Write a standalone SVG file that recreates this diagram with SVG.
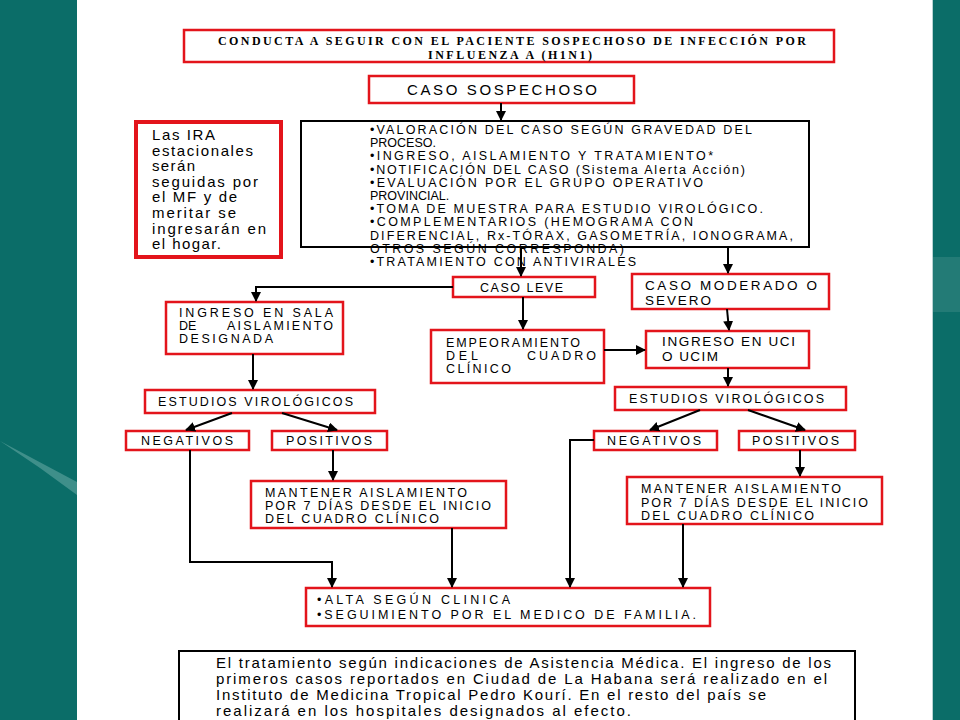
<svg xmlns="http://www.w3.org/2000/svg" width="960" height="720" viewBox="0 0 960 720">
<defs>
<marker id="ah" markerUnits="userSpaceOnUse" markerWidth="10" markerHeight="10" refX="9" refY="5" orient="auto">
<path d="M0,0 L10,5 L0,10 z" fill="#000"/>
</marker>
<style>
.rb{fill:#fff;stroke:#e3141b;stroke-width:2.5}
.bb{fill:#fff;stroke:#000;stroke-width:2}
.t{font-family:"Liberation Sans",Arial,sans-serif;font-size:12.5px;fill:#000}
.t13{font-family:"Liberation Sans",Arial,sans-serif;font-size:13.5px;fill:#000}
.t15{font-family:"Liberation Sans",Arial,sans-serif;font-size:15px;fill:#000}
.ts{font-family:"Liberation Serif","Times New Roman",serif;font-size:12px;font-weight:bold;fill:#000}
.c{fill:none;stroke:#000;stroke-width:2;marker-end:url(#ah)}
</style>
</defs>
<rect x="0" y="0" width="960" height="720" fill="#fff"/>
<rect x="0" y="0" width="77" height="720" fill="#0b6d68"/>
<polygon points="0,441 77,482 77,495 40,468" fill="#3f8f8a"/>
<rect x="932" y="0" width="28" height="720" fill="#0b6d68"/>
<rect x="933" y="257" width="27" height="55" fill="#237b76"/>
<line x1="932.5" y1="0" x2="932.5" y2="720" stroke="#b9d3d3" stroke-width="1"/>

<g id="title">
<rect class="rb" x="184" y="30" width="650" height="32"/>
<text class="ts" x="218" y="45" textLength="588" lengthAdjust="spacing">CONDUCTA A SEGUIR CON EL PACIENTE SOSPECHOSO DE INFECCIÓN POR</text>
<text class="ts" x="428" y="59" textLength="164" lengthAdjust="spacing">INFLUENZA A (H1N1)</text>
</g>

<g id="caso-sospechoso">
<rect class="rb" x="369" y="76" width="265" height="27"/>
<text class="t15" x="407" y="95" font-size="14.5" textLength="190" lengthAdjust="spacing">CASO SOSPECHOSO</text>
</g>

<g id="acciones">
<rect class="bb" x="301" y="121" width="508" height="126"/>
<g class="t">
<text x="370" y="134" textLength="382" lengthAdjust="spacing">•VALORACIÓN DEL CASO SEGÚN GRAVEDAD DEL</text>
<text x="370" y="147.2">PROCESO.</text>
<text x="370" y="160.4" textLength="343" lengthAdjust="spacing">•INGRESO, AISLAMIENTO Y TRATAMIENTO*</text>
<text x="370" y="173.6" textLength="375" lengthAdjust="spacing">•NOTIFICACIÓN DEL CASO (Sistema Alerta Acción)</text>
<text x="370" y="186.8" textLength="333" lengthAdjust="spacing">•EVALUACIÓN POR EL GRUPO OPERATIVO</text>
<text x="370" y="200">PROVINCIAL.</text>
<text x="370" y="213.2" textLength="393" lengthAdjust="spacing">•TOMA DE MUESTRA PARA ESTUDIO VIROLÓGICO.</text>
<text x="370" y="226.4" textLength="323" lengthAdjust="spacing">•COMPLEMENTARIOS (HEMOGRAMA CON</text>
<text x="370" y="239.6" textLength="423" lengthAdjust="spacing">DIFERENCIAL, Rx-TÓRAX, GASOMETRÍA, IONOGRAMA,</text>
<text x="370" y="252.8" textLength="254" lengthAdjust="spacing">OTROS SEGÚN CORRESPONDA)</text>
<text x="370" y="266" textLength="266" lengthAdjust="spacing">•TRATAMIENTO CON ANTIVIRALES</text>
</g>
</g>

<g id="ira-nota">
<rect x="136" y="122" width="145" height="135" fill="#fff" stroke="#e3141b" stroke-width="4"/>
<g class="t15">
<text x="152" y="140" textLength="63" lengthAdjust="spacing">Las IRA</text>
<text x="152" y="155.6" textLength="101" lengthAdjust="spacing">estacionales</text>
<text x="152" y="171.2" textLength="43" lengthAdjust="spacing">serán</text>
<text x="152" y="186.8" textLength="106" lengthAdjust="spacing">seguidas por</text>
<text x="152" y="202.4" textLength="85" lengthAdjust="spacing">el MF y de</text>
<text x="152" y="218" textLength="84" lengthAdjust="spacing">meritar se</text>
<text x="152" y="233.6" textLength="114" lengthAdjust="spacing">ingresarán en</text>
<text x="152" y="249.2" textLength="69" lengthAdjust="spacing">el hogar.</text>
</g>
</g>

<g id="caso-leve">
<rect class="rb" x="453" y="277" width="142" height="20"/>
<text class="t" x="480" y="292" textLength="83" lengthAdjust="spacing">CASO LEVE</text>
</g>

<g id="caso-moderado">
<rect class="rb" x="632" y="274" width="197" height="35"/>
<text class="t13" x="645" y="290" textLength="172" lengthAdjust="spacing">CASO MODERADO O</text>
<text class="t13" x="645" y="305" textLength="66" lengthAdjust="spacing">SEVERO</text>
</g>

<g id="ingreso-sala">
<rect class="rb" x="166" y="302" width="177" height="52"/>
<text class="t" x="179" y="317" textLength="154" lengthAdjust="spacing">INGRESO EN SALA</text>
<text class="t" x="179" y="330">DE</text>
<text class="t" x="227" y="330" textLength="106" lengthAdjust="spacing">AISLAMIENTO</text>
<text class="t" x="179" y="343" textLength="94" lengthAdjust="spacing">DESIGNADA</text>
</g>

<g id="empeoramiento">
<rect class="rb" x="431" y="330" width="173" height="53"/>
<text class="t" x="446" y="347" textLength="134" lengthAdjust="spacing">EMPEORAMIENTO</text>
<text class="t" x="446" y="360" textLength="32" lengthAdjust="spacing">DEL</text>
<text class="t" x="527" y="360" textLength="69" lengthAdjust="spacing">CUADRO</text>
<text class="t" x="446" y="373" textLength="65" lengthAdjust="spacing">CLÍNICO</text>
</g>

<g id="ingreso-uci">
<rect class="rb" x="646" y="331" width="163" height="37"/>
<text class="t13" x="662" y="346" textLength="133" lengthAdjust="spacing">INGRESO EN UCI</text>
<text class="t13" x="662" y="361" textLength="56" lengthAdjust="spacing">O UCIM</text>
</g>

<g id="estudios-izq">
<rect class="rb" x="145" y="390" width="230" height="23"/>
<text class="t" x="158" y="406" textLength="195" lengthAdjust="spacing">ESTUDIOS VIROLÓGICOS</text>
</g>
<g id="negativos-izq">
<rect class="rb" x="126" y="431" width="123" height="19"/>
<text class="t" x="141" y="445" textLength="92" lengthAdjust="spacing">NEGATIVOS</text>
</g>
<g id="positivos-izq">
<rect class="rb" x="272" y="431" width="115" height="19"/>
<text class="t" x="286" y="445" textLength="86" lengthAdjust="spacing">POSITIVOS</text>
</g>
<g id="mantener-izq">
<rect class="rb" x="251" y="481" width="255" height="47"/>
<text class="t" x="265" y="497" textLength="202" lengthAdjust="spacing">MANTENER AISLAMIENTO</text>
<text class="t" x="265" y="510" textLength="226" lengthAdjust="spacing">POR 7 DÍAS DESDE EL INICIO</text>
<text class="t" x="265" y="523" textLength="174" lengthAdjust="spacing">DEL CUADRO CLÍNICO</text>
</g>

<g id="estudios-der">
<rect class="rb" x="615" y="387" width="231" height="23"/>
<text class="t" x="629" y="403" textLength="195" lengthAdjust="spacing">ESTUDIOS VIROLÓGICOS</text>
</g>
<g id="negativos-der">
<rect class="rb" x="594" y="431" width="123" height="19"/>
<text class="t" x="607" y="445" textLength="94" lengthAdjust="spacing">NEGATIVOS</text>
</g>
<g id="positivos-der">
<rect class="rb" x="739" y="431" width="116" height="19"/>
<text class="t" x="752" y="445" textLength="87" lengthAdjust="spacing">POSITIVOS</text>
</g>
<g id="mantener-der">
<rect class="rb" x="627" y="477" width="255" height="47"/>
<text class="t" x="641" y="493" textLength="200" lengthAdjust="spacing">MANTENER AISLAMIENTO</text>
<text class="t" x="641" y="507" textLength="227" lengthAdjust="spacing">POR 7 DÍAS DESDE EL INICIO</text>
<text class="t" x="641" y="520" textLength="173" lengthAdjust="spacing">DEL CUADRO CLÍNICO</text>
</g>

<g id="alta">
<rect class="rb" x="306" y="588" width="404" height="38"/>
<text class="t" x="317" y="604" textLength="193" lengthAdjust="spacing">•ALTA SEGÚN CLINICA</text>
<text class="t" x="317" y="619" textLength="379" lengthAdjust="spacing">•SEGUIMIENTO POR EL MEDICO DE FAMILIA.</text>
</g>

<g id="nota-final">
<rect class="bb" x="179" y="651" width="676" height="80"/>
<g class="t15" font-size="14.5">
<text x="216" y="668" textLength="615" lengthAdjust="spacing">El tratamiento según indicaciones de Asistencia Médica. El ingreso de los</text>
<text x="216" y="684" textLength="611" lengthAdjust="spacing">primeros casos reportados en Ciudad de La Habana será realizado en el</text>
<text x="216" y="700" textLength="550" lengthAdjust="spacing">Instituto de Medicina Tropical Pedro Kourí. En el resto del país se</text>
<text x="216" y="716" textLength="415" lengthAdjust="spacing">realizará en los hospitales designados al efecto.</text>
</g>
</g>

<g id="connectors">
<path class="c" d="M501,103 V120"/>
<path class="c" d="M521,247 V276"/>
<path class="c" d="M728,247 V273"/>
<path class="c" d="M453,287 H256 V301"/>
<path class="c" d="M523,297 V329"/>
<path class="c" d="M727,309 L729,330"/>
<path class="c" d="M604,350 H645"/>
<path class="c" d="M253,354 V389"/>
<path class="c" d="M728,368 V386"/>
<path class="c" d="M232,413 L186,430"/>
<path class="c" d="M282,413 L337,430"/>
<path class="c" d="M700,410 L650,430"/>
<path class="c" d="M748,410 L805,430"/>
<path class="c" d="M190,450 V562 H332 V587"/>
<path class="c" d="M333,450 V480"/>
<path class="c" d="M452,528 V587"/>
<path class="c" d="M594,440 H570 V587"/>
<path class="c" d="M800,450 V476"/>
<path class="c" d="M683,524 V587"/>
</g>
</svg>
